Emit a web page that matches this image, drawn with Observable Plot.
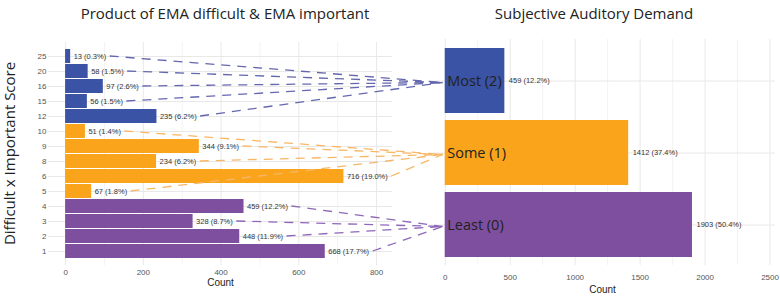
<!DOCTYPE html>
<html><head><meta charset="utf-8">
<script src="https://cdn.jsdelivr.net/npm/d3@7"></script>
<script src="https://cdn.jsdelivr.net/npm/@observablehq/plot@0.6"></script>
<style>
body{margin:0;background:#fff;}
#wrap{position:relative;width:780px;height:296px;overflow:hidden;font-family:"Open Sans",sans-serif;background:#fff;}
#wrap svg{position:absolute;left:0;top:0;}
.title{position:absolute;top:0;font-size:15px;color:#222;white-space:nowrap;transform:translateX(-50%);line-height:26px;z-index:5;}
</style></head><body>
<div id="wrap">
<div class="title" style="left:225px">Product of EMA difficult &amp; EMA important</div>
<div class="title" style="left:594px">Subjective Auditory Demand</div>
</div>
<script>
// ---- data ----
const scores = [25, 20, 16, 15, 12, 10, 9, 8, 6, 5, 4, 3, 2, 1];
const scoreCounts = [13, 58, 97, 56, 235, 51, 344, 234, 716, 67, 459, 328, 448, 668];
const scorePcts = ["0.3", "1.5", "2.6", "1.5", "6.2", "1.4", "9.1", "6.2", "19.0", "1.8", "12.2", "8.7", "11.9", "17.7"];
const scoreGroups = ["Most (2)", "Most (2)", "Most (2)", "Most (2)", "Most (2)", "Some (1)", "Some (1)", "Some (1)", "Some (1)", "Some (1)", "Least (0)", "Least (0)", "Least (0)", "Least (0)"];
const demandLevels = ["Most (2)", "Some (1)", "Least (0)"];
const demandCounts = [459, 1412, 1903];
const demandPcts = ["12.2", "37.4", "50.4"];
const leftTicks = [0, 200, 400, 600, 800];
const leftMinor = [100, 300, 500, 700];
const rightTicks = [0, 500, 1000, 1500, 2000, 2500];
const rightMinor = [250, 750, 1250, 1750, 2250];
const yTitle = "Difficult x Important Score";

const barColors = ["#3a53a4", "#f9a41b", "#7e4f9f"];
const lineColors = ["#6467ae", "#f7b767", "#8d67b8"];

const leftData = scores.map((s, i) => ({score: s, count: scoreCounts[i], pct: scorePcts[i], group: scoreGroups[i]}));
const rightData = demandLevels.map((d, i) => ({level: d, count: demandCounts[i], pct: demandPcts[i]}));

const font = "Liberation Sans, Arial, sans-serif";
const wrap = document.getElementById("wrap");

const left = Plot.plot({
  width: 780, height: 296,
  marginLeft: 48, marginRight: 388, marginTop: 42, marginBottom: 31,
  style: {fontFamily: font, background: "transparent"},
  x: {domain: [-44, 841]},
  y: {type: "band", domain: scores, padding: 0.1},
  color: {domain: demandLevels, range: barColors},
  marks: [
    Plot.gridX({ticks: leftMinor, stroke: "#f3f3f3", strokeOpacity: 1}),
    Plot.gridX({ticks: leftTicks, stroke: "#e8e8e8", strokeOpacity: 1}),
    Plot.gridY({stroke: "#e8e8e8", strokeOpacity: 1}),
    Plot.barX(leftData, {x: "count", y: "score", fill: "group"}),
    Plot.text(leftData, {x: "count", y: "score", text: d => `${d.count} (${d.pct}%)`, dx: 3, textAnchor: "start", fontSize: 7.5, fill: "#333"}),
    Plot.axisY({tickSize: 0, tickPadding: 2, fontSize: 8, color: "#555", label: null}),
    Plot.axisX({ticks: leftTicks, tickSize: 0, tickPadding: 4, fontSize: 8, color: "#555", label: null, tickFormat: d => String(d)}),
    Plot.axisX({ticks: [], label: "Count", labelAnchor: "center", labelArrow: "none", labelOffset: 20, fontSize: 10, color: "#222"})
  ]
});

const right = Plot.plot({
  width: 780, height: 296,
  marginLeft: 429, marginRight: 5, marginTop: 39, marginBottom: 31,
  style: {fontFamily: font, background: "transparent"},
  x: {domain: [-121, 2542]},
  y: {type: "band", domain: demandLevels, padding: 0.1},
  color: {domain: demandLevels, range: barColors},
  marks: [
    Plot.gridX({ticks: rightMinor, stroke: "#f3f3f3", strokeOpacity: 1}),
    Plot.gridX({ticks: rightTicks, stroke: "#e8e8e8", strokeOpacity: 1}),
    Plot.gridY({stroke: "#e8e8e8", strokeOpacity: 1}),
    Plot.barX(rightData, {x: "count", y: "level", fill: "level"}),
    Plot.text(rightData, {x: 0, y: "level", text: "level", dx: 2, textAnchor: "start", fontSize: 14.5, fill: "#222", fontFamily: "Open Sans"}),
    Plot.text(rightData, {x: "count", y: "level", text: d => `${d.count} (${d.pct}%)`, dx: 4, textAnchor: "start", fontSize: 7.5, fill: "#333"}),
    Plot.axisY({ticks: [], label: null}),
    Plot.axisX({ticks: rightTicks, tickSize: 0, tickPadding: 9, fontSize: 8, color: "#555", label: null, tickFormat: d => String(d)}),
    Plot.axisX({ticks: [], label: "Count", labelAnchor: "center", labelArrow: "none", labelOffset: 27, fontSize: 10, color: "#222"})
  ]
});

wrap.appendChild(left);
wrap.appendChild(right);

// connectors, positioned through the two plots' scales
const xL = left.scale("x"), yL = left.scale("y"), xR = right.scale("x"), yR = right.scale("y");
const ctx = document.createElement("canvas").getContext("2d");
ctx.font = "7.5px 'Liberation Sans', Arial, sans-serif";
const links = leftData.map(d => {
  const w = ctx.measureText(`${d.count} (${d.pct}%)`).width;
  const gi = demandLevels.indexOf(d.group);
  return {
    x1: xL.apply(d.count) + 3 + w + 4,
    y1: yL.apply(d.score) + yL.bandwidth / 2,
    x2: xR.apply(0) - 2,
    y2: yR.apply(d.group) + yR.bandwidth / 2 + 2,
    color: lineColors[gi]
  };
});
const ov = d3.select(wrap).append("svg").attr("width", 780).attr("height", 296).style("pointer-events", "none");
ov.selectAll("line").data(links).join("line")
  .attr("x1", d => d.x1).attr("y1", d => d.y1)
  .attr("x2", d => d.x2).attr("y2", d => d.y2)
  .attr("stroke", d => d.color).attr("stroke-width", 1.3)
  .attr("stroke-dasharray", "9,7");
// shared y title, centred on the left panel's band range
const yr = yL.range;
ov.append("text")
  .attr("transform", `translate(15,${(yr[0] + yr[1]) / 2}) rotate(-90)`)
  .attr("text-anchor", "middle")
  .attr("font-family", "Open Sans, sans-serif")
  .attr("font-size", 15)
  .attr("fill", "#222")
  .text(yTitle);
</script>
</body></html>
